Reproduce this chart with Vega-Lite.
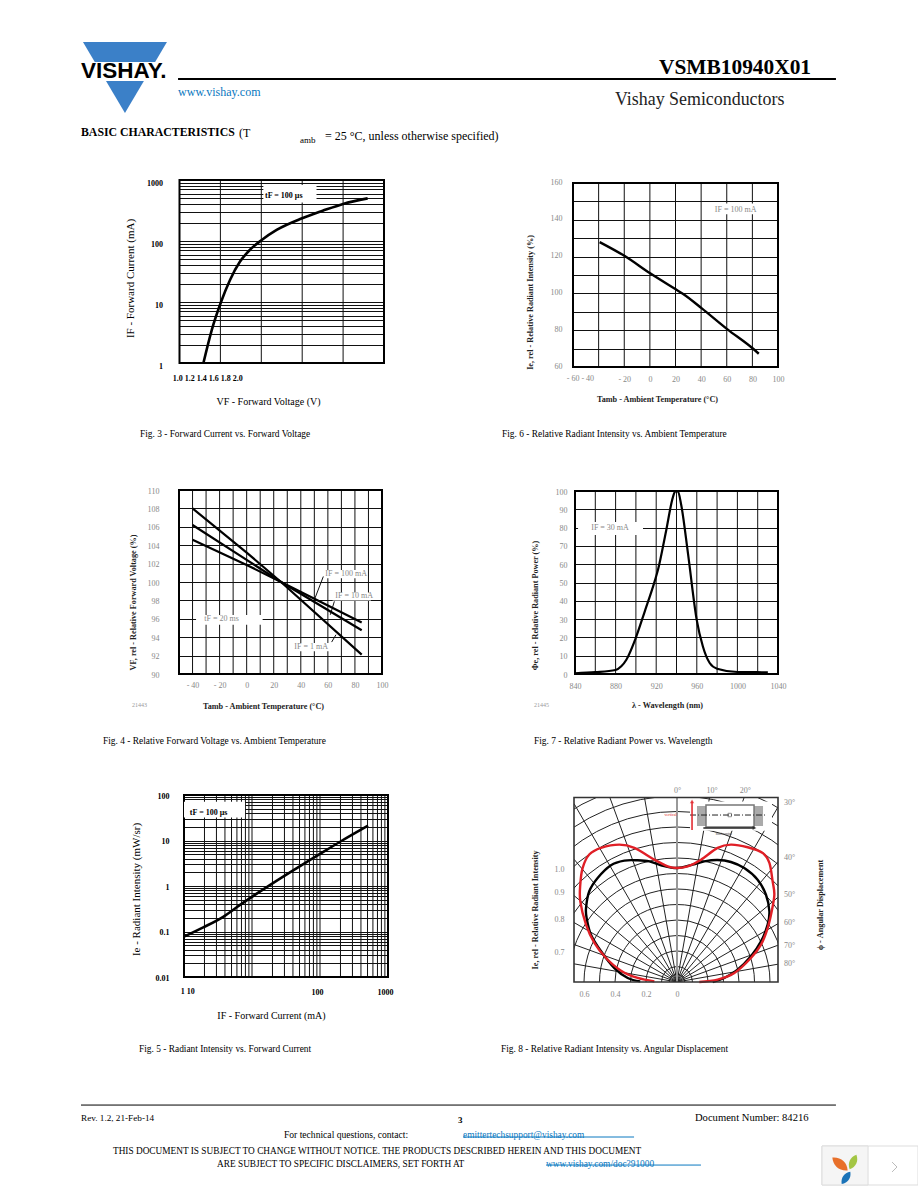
{"$schema":"https://vega.github.io/schema/vega-lite/v6.json","width":918,"height":1188,"padding":0,"autosize":{"type":"none"},"background":"white",
"config":{"view":{"stroke":null},"axis":{"domain":false,"ticks":false,"gridColor":"#111","gridWidth":1,"gridOpacity":1,"labelFont":"Liberation Serif","titleFont":"Liberation Serif","labelOverlap":false,"labelBound":false,"labelFlush":false,"labelAngle":0,"labelBaseline":"middle","labelFontSize":8,"labelColor":"#888","titleFontSize":8.2,"titleFontWeight":"bold","titleColor":"#222","titleBaseline":"middle","titleAlign":"center"},"text":{"font":"Liberation Serif","align":"left","baseline":"middle","color":"#000"}},
"resolve":{"scale":{"x":"independent","y":"independent","radius":"independent"},"axis":{"x":"independent","y":"independent"}},
"layer":[
{"encoding":{"x":{"field":"x","type":"quantitative","scale":{"domain":[-0.6645,0.6516],"range":[574,778],"nice":false,"zero":false},"axis":{"orient":"bottom","offset":-206,"grid":false,"zindex":1,"values":[-0.6,-0.4,-0.2,0],"labelExpr":"''+abs(datum.value)","labelPadding":12,"title":null}},"y":{"field":"y","type":"quantitative","axis":null,"scale":{"domain":[0,1.19],"range":[982,797.5],"nice":false,"zero":false}}},
"layer":[
{"data":{"values":[{"x":0,"y":0,"r":0.05},{"x":0,"y":0,"r":0.1},{"x":0,"y":0,"r":0.2},{"x":0,"y":0,"r":0.3},{"x":0,"y":0,"r":0.4},{"x":0,"y":0,"r":0.5},{"x":0,"y":0,"r":0.6},{"x":0,"y":0,"r":0.7},{"x":0,"y":0,"r":0.8},{"x":0,"y":0,"r":0.9},{"x":0,"y":0,"r":1.0},{"x":0,"y":0,"r":1.1},{"x":0,"y":0,"r":1.2},{"x":0,"y":0,"r":1.3}]},"mark":{"type":"arc","theta":0,"theta2":6.2832,"filled":false,"stroke":"#222","strokeWidth":1},"encoding":{"radius":{"field":"r","type":"quantitative","stack":null,"scale":{"domain":[0,1.3],"range":[0,201.5],"nice":false,"zero":true}}}},
{"data":{"values":[{"x":0,"y":0,"x2":0.2098,"y2":1.19},{"x":0,"y":0,"x2":0.4331,"y2":1.19},{"x":0,"y":0,"x2":0.6516,"y2":1.1286},{"x":0,"y":0,"x2":0.6516,"y2":0.7765},{"x":0,"y":0,"x2":0.6516,"y2":0.5467},{"x":0,"y":0,"x2":0.6516,"y2":0.3762},{"x":0,"y":0,"x2":0.6516,"y2":0.2372},{"x":0,"y":0,"x2":0.6516,"y2":0.1149},{"x":0,"y":0,"x2":-0.2098,"y2":1.19},{"x":0,"y":0,"x2":-0.4331,"y2":1.19},{"x":0,"y":0,"x2":-0.6645,"y2":1.151},{"x":0,"y":0,"x2":-0.6645,"y2":0.792},{"x":0,"y":0,"x2":-0.6645,"y2":0.5576},{"x":0,"y":0,"x2":-0.6645,"y2":0.3837},{"x":0,"y":0,"x2":-0.6645,"y2":0.2419},{"x":0,"y":0,"x2":-0.6645,"y2":0.1172}]},"mark":{"type":"rule","stroke":"#222","strokeWidth":1},"encoding":{"x2":{"field":"x2"},"y2":{"field":"y2"}}},
{"data":{"values":[{"x":-1.4,"x2":-0.6645,"y":-1.4,"y2":1.45},{"x":0.6516,"x2":1.4,"y":-1.4,"y2":1.45},{"x":-1.4,"x2":1.4,"y":1.19,"y2":1.45},{"x":-1.4,"x2":1.4,"y":-1.4,"y2":0}]},"mark":{"type":"rect","fill":"#fff"},"encoding":{"x2":{"field":"x2"},"y2":{"field":"y2"}}},
{"data":{"values":[{"x":0,"y":0,"x2":0,"y2":1.19}]},"mark":{"type":"rule","stroke":"#999","strokeWidth":2},"encoding":{"x2":{"field":"x2"},"y2":{"field":"y2"}}},
{"data":{"values":[{"x":0.084,"x2":0.613,"y":0.975,"y2":1.165}]},"mark":{"type":"rect","fill":"#fff"},"encoding":{"x2":{"field":"x2"},"y2":{"field":"y2"}}},
{"data":{"values":[{"x":0.129,"x2":0.187,"y":1.006,"y2":1.135},{"x":0.497,"x2":0.555,"y":1.006,"y2":1.135}]},"mark":{"type":"rect","fill":"#aaa"},"encoding":{"x2":{"field":"x2"},"y2":{"field":"y2"}}},
{"data":{"values":[{"x":0.187,"x2":0.497,"y":1.0,"y2":1.142}]},"mark":{"type":"rect","filled":false,"stroke":"#777","strokeWidth":1.5},"encoding":{"x2":{"field":"x2"},"y2":{"field":"y2"}}},
{"data":{"values":[{"x":0.084,"x2":0.574,"y":1.077}]},"mark":{"type":"rule","stroke":"#222","strokeWidth":1,"strokeDash":[6,2,1,2]},"encoding":{"x2":{"field":"x2"}}},
{"data":{"values":[{"x":0.097,"y":0.98,"y2":1.165}]},"mark":{"type":"rule","stroke":"#e01f26","strokeWidth":1.5},"encoding":{"y2":{"field":"y2"}}},
{"data":{"values":[{"x":0.097,"y":1.165}]},"mark":{"type":"point","shape":"triangle-up","filled":true,"color":"#e01f26","size":20}},
{"data":{"values":[{"x":0.17,"x2":0.5,"y":0.994}]},"mark":{"type":"rule","stroke":"#222","strokeWidth":1.5},"encoding":{"x2":{"field":"x2"}}},
{"data":{"values":[{"x":0.5,"y":0.994}]},"mark":{"type":"point","shape":"triangle-right","filled":true,"color":"#222","size":20}},
{"data":{"values":[{"x":0.34,"y":1.077}]},"mark":{"type":"point","shape":"square","filled":false,"color":"#222","size":12,"strokeWidth":0.7}},
{"data":{"values":[{"t":"vertical","x":-0.08,"y":1.077}]},"mark":{"type":"text","fontSize":4,"color":"#e01f26"},"encoding":{"text":{"field":"t"}}},
{"data":{"values":[{"t":"horizontal","x":0.25,"y":0.955}]},"mark":{"type":"text","fontSize":4,"color":"#444"},"encoding":{"text":{"field":"t"}}},
{"data":{"values":[{"i":1,"x":-0.237,"y":0.004},{"i":2,"x":-0.318,"y":0.026},{"i":3,"x":-0.404,"y":0.09},{"i":4,"x":-0.49,"y":0.198},{"i":5,"x":-0.555,"y":0.305},{"i":6,"x":-0.583,"y":0.413},{"i":7,"x":-0.587,"y":0.477},{"i":8,"x":-0.566,"y":0.585},{"i":9,"x":-0.512,"y":0.671},{"i":10,"x":-0.426,"y":0.753},{"i":11,"x":-0.34,"y":0.783},{"i":12,"x":-0.254,"y":0.785},{"i":13,"x":-0.178,"y":0.778},{"i":14,"x":-0.103,"y":0.753},{"i":15,"x":0,"y":0.735},{"i":16,"x":0.101,"y":0.757},{"i":17,"x":0.176,"y":0.778},{"i":18,"x":0.262,"y":0.787},{"i":19,"x":0.348,"y":0.774},{"i":20,"x":0.434,"y":0.735},{"i":21,"x":0.52,"y":0.66},{"i":22,"x":0.574,"y":0.563},{"i":23,"x":0.596,"y":0.456},{"i":24,"x":0.585,"y":0.37},{"i":25,"x":0.542,"y":0.262},{"i":26,"x":0.477,"y":0.166},{"i":27,"x":0.391,"y":0.08},{"i":28,"x":0.305,"y":0.026},{"i":29,"x":0.23,"y":0}]},"mark":{"type":"line","stroke":"#000","strokeWidth":2.4,"interpolate":"cardinal"},"encoding":{"order":{"field":"i"}}},
{"data":{"values":[{"i":1,"x":-0.146,"y":0.004},{"i":2,"x":-0.254,"y":0.026},{"i":3,"x":-0.361,"y":0.073},{"i":4,"x":-0.458,"y":0.155},{"i":5,"x":-0.533,"y":0.252},{"i":6,"x":-0.587,"y":0.37},{"i":7,"x":-0.624,"y":0.52},{"i":8,"x":-0.624,"y":0.628},{"i":9,"x":-0.609,"y":0.735},{"i":10,"x":-0.566,"y":0.822},{"i":11,"x":-0.49,"y":0.865},{"i":12,"x":-0.372,"y":0.886},{"i":13,"x":-0.275,"y":0.865},{"i":14,"x":-0.146,"y":0.789},{"i":15,"x":-0.06,"y":0.746},{"i":16,"x":0,"y":0.735},{"i":17,"x":0.069,"y":0.746},{"i":18,"x":0.155,"y":0.789},{"i":19,"x":0.262,"y":0.865},{"i":20,"x":0.348,"y":0.886},{"i":21,"x":0.456,"y":0.869},{"i":22,"x":0.553,"y":0.832},{"i":23,"x":0.596,"y":0.768},{"i":24,"x":0.617,"y":0.649},{"i":25,"x":0.628,"y":0.563},{"i":26,"x":0.611,"y":0.456},{"i":27,"x":0.585,"y":0.348},{"i":28,"x":0.542,"y":0.241},{"i":29,"x":0.477,"y":0.155},{"i":30,"x":0.37,"y":0.058},{"i":31,"x":0.262,"y":0.015},{"i":32,"x":0.144,"y":0}]},"mark":{"type":"line","stroke":"#e01f26","strokeWidth":2.4,"interpolate":"cardinal"},"encoding":{"order":{"field":"i"}}},
{"data":{"values":[{"x":-0.6645,"x2":0.6516,"y":0,"y2":1.19}]},"mark":{"type":"rect","filled":false,"stroke":"#333","strokeWidth":1.6},"encoding":{"x2":{"field":"x2"},"y2":{"field":"y2"}}},
{"data":{"values":[{"t":"1.0","x":-0.79,"y":0.723},{"t":"0.9","x":-0.79,"y":0.574},{"t":"0.8","x":-0.79,"y":0.4},{"t":"0.7","x":-0.79,"y":0.187},{"t":"0°","x":-0.02,"y":1.232},{"t":"10°","x":0.19,"y":1.232},{"t":"20°","x":0.405,"y":1.232},{"t":"30°","x":0.69,"y":1.155},{"t":"40°","x":0.69,"y":0.8},{"t":"50°","x":0.69,"y":0.561},{"t":"60°","x":0.69,"y":0.381},{"t":"70°","x":0.69,"y":0.232},{"t":"80°","x":0.69,"y":0.116}]},"mark":{"type":"text","fontSize":8,"color":"#888"},"encoding":{"text":{"field":"t"}}},
{"data":{"values":[{"t":"Ie, rel  - Relative Radiant Intensity","x":-0.91,"y":0.465},{"t":"ϕ - Angular Displacement","x":0.93,"y":0.497}]},"mark":{"type":"text","fontSize":8.2,"fontWeight":"bold","color":"#222","angle":270,"align":"center"},"encoding":{"text":{"field":"t"}}}
]},
{"encoding":{"x":{"field":"x","type":"quantitative","scale":{"type":"linear","domain":[1,2],"range":[179.5,384],"nice":false,"zero":false},"axis":{"orient":"bottom","offset":-825,"grid":false,"values":[1,1.2,1.4,1.6,1.8,2],"labels":false,"title":"VF  - Forward Voltage (V)","titleX":268,"titleY":38,"titleFontSize":10,"titleFontWeight":"normal","titleColor":"#000"}},"y":{"field":"y","type":"quantitative","scale":{"type":"log","domain":[1,1000],"range":[363,180],"nice":false},"axis":{"orient":"left","offset":-179.5,"grid":true,"values":[1,2,3,4,5,6,7,8,9,10,20,30,40,50,60,70,80,90,100,200,300,400,500,600,700,800,900,1000],"labelExpr":"indexof([1,10,100,1000],datum.value)>=0?''+datum.value:''","labelFontWeight":"bold","labelColor":"#000","labelPadding":17,"labelOffset":3,"title":"IF  - Forward  Current (mA)","titleX":-49.5,"titleY":278,"titleAngle":270,"titleFontSize":11,"titleFontWeight":"normal","titleColor":"#000"}}},
"layer":[
{"data":{"values":[{"x":1.2,"y":1,"y2":1000},{"x":1.4,"y":1,"y2":1000},{"x":1.6,"y":1,"y2":1000},{"x":1.8,"y":1,"y2":1000}]},"mark":{"type":"rule","stroke":"#111","strokeWidth":1},"encoding":{"y2":{"field":"y2"}}},
{"data":{"values":[{"x":1,"x2":2,"y":1,"y2":1000}]},"mark":{"type":"rect","filled":false,"stroke":"#000","strokeWidth":2},"encoding":{"x2":{"field":"x2"},"y2":{"field":"y2"}}},
{"data":{"values":[{"x":1.41,"x2":1.67,"y":426,"y2":827}]},"mark":{"type":"rect","fill":"#fff"},"encoding":{"x2":{"field":"x2"},"y2":{"field":"y2"}}},
{"data":{"values":[{"x":1.117,"y":1},{"x":1.158,"y":3.5},{"x":1.203,"y":10},{"x":1.247,"y":23},{"x":1.296,"y":46},{"x":1.345,"y":72},{"x":1.402,"y":104},{"x":1.475,"y":152},{"x":1.6,"y":236},{"x":1.7,"y":313},{"x":1.8,"y":406},{"x":1.92,"y":500}]},"mark":{"type":"line","stroke":"#000","strokeWidth":2.6,"interpolate":"monotone"}},
{"data":{"values":[{"t":"tF  = 100 µs","x":1.418,"y":547},{"t":"1.0 1.2 1.4 1.6 1.8 2.0","x":0.967,"y":0.547}]},"mark":{"type":"text","fontSize":8,"fontWeight":"bold"},"encoding":{"text":{"field":"t"}}}
]},
{"encoding":{"x":{"field":"x","type":"quantitative","scale":{"domain":[-60,100],"range":[573,778],"nice":false,"zero":false},"axis":{"orient":"bottom","offset":-821,"grid":false,"values":[-60,-40,-20,0,20,40,60,80,100],"labelExpr":"datum.value>=-20?(datum.value<0?'- '+abs(datum.value):''+datum.value):''","labelPadding":12,"title":"Tamb  - Ambient Temperature (°C)","titleX":657,"titleY":32}},"y":{"field":"y","type":"quantitative","scale":{"domain":[60,160],"range":[367,183],"nice":false,"zero":false},"axis":{"orient":"left","offset":-573,"grid":true,"values":[60,70,80,90,100,110,120,130,140,150,160],"labelExpr":"datum.value%20==0?''+datum.value:''","labelPadding":11,"labelOffset":-1,"title":"Ie, rel  - Relative Radiant Intensity (%)","titleX":-43,"titleY":302,"titleAngle":270}}},
"layer":[
{"data":{"values":[{"x":-40,"y":60,"y2":160},{"x":-20,"y":60,"y2":160},{"x":0,"y":60,"y2":160},{"x":20,"y":60,"y2":160},{"x":40,"y":60,"y2":160},{"x":60,"y":60,"y2":160},{"x":80,"y":60,"y2":160}]},"mark":{"type":"rule","stroke":"#111","strokeWidth":1},"encoding":{"y2":{"field":"y2"}}},
{"data":{"values":[{"x":-60,"x2":100,"y":60,"y2":160}]},"mark":{"type":"rect","filled":false,"stroke":"#000","strokeWidth":2},"encoding":{"x2":{"field":"x2"},"y2":{"field":"y2"}}},
{"data":{"values":[{"x":41,"x2":84.5,"y":143,"y2":148.8}]},"mark":{"type":"rect","fill":"#fff"},"encoding":{"x2":{"field":"x2"},"y2":{"field":"y2"}}},
{"data":{"values":[{"x":-39.2,"y":127.9},{"x":-19.6,"y":120.3},{"x":0.2,"y":110.9},{"x":20.2,"y":102.2},{"x":26,"y":99.7},{"x":40.3,"y":92},{"x":60.3,"y":80.6},{"x":80.6,"y":69.9},{"x":85,"y":67.2}]},"mark":{"type":"line","stroke":"#000","strokeWidth":2.4,"interpolate":"monotone"}},
{"data":{"values":[{"t":"IF  = 100 mA","x":50.7,"y":145.4},{"t":"- 60  - 40","x":-64.9,"y":53.5}]},"mark":{"type":"text","fontSize":8,"color":"#888"},"encoding":{"text":{"field":"t"}}}
]},
{"encoding":{"x":{"field":"x","type":"quantitative","scale":{"domain":[-50,100],"range":[179,382],"nice":false,"zero":false},"axis":{"orient":"bottom","offset":-514,"grid":false,"values":[-50,-40,-30,-20,-10,0,10,20,30,40,50,60,70,80,90,100],"labelExpr":"datum.value%20==0?(datum.value<0?'- '+abs(datum.value):''+datum.value):''","labelPadding":11,"title":"Tamb  - Ambient Temperature (°C)","titleX":263,"titleY":32}},"y":{"field":"y","type":"quantitative","scale":{"domain":[90,110],"range":[674,490],"nice":false,"zero":false},"axis":{"orient":"left","offset":-179,"grid":true,"values":[90,92,94,96,98,100,102,104,106,108,110],"labelPadding":20,"labelOffset":1,"title":"VF, rel  - Relative Forward Voltage (%)","titleX":-46,"titleY":602,"titleAngle":270}}},
"layer":[
{"data":{"values":[{"x":-40,"y":90,"y2":110},{"x":-30,"y":90,"y2":110},{"x":-20,"y":90,"y2":110},{"x":-10,"y":90,"y2":110},{"x":0,"y":90,"y2":110},{"x":10,"y":90,"y2":110},{"x":20,"y":90,"y2":110},{"x":30,"y":90,"y2":110},{"x":40,"y":90,"y2":110},{"x":50,"y":90,"y2":110},{"x":60,"y":90,"y2":110},{"x":70,"y":90,"y2":110},{"x":80,"y":90,"y2":110},{"x":90,"y":90,"y2":110}]},"mark":{"type":"rule","stroke":"#111","strokeWidth":1},"encoding":{"y2":{"field":"y2"}}},
{"data":{"values":[{"x":-50,"x2":100,"y":90,"y2":110}]},"mark":{"type":"rect","filled":false,"stroke":"#000","strokeWidth":2},"encoding":{"x2":{"field":"x2"},"y2":{"field":"y2"}}},
{"data":{"values":[{"x":-37.4,"x2":11.8,"y":95.35,"y2":96.4},{"x":56.2,"x2":88.2,"y":100.4,"y2":101.3},{"x":63.5,"x2":91.9,"y":98,"y2":98.86},{"x":31.5,"x2":62.3,"y":92.46,"y2":93.36}]},"mark":{"type":"rect","fill":"#fff"},"encoding":{"x2":{"field":"x2"},"y2":{"field":"y2"}}},
{"data":{"values":[{"x":50,"y":98.06,"x2":56.65,"y2":100.6},{"x":61.8,"y":96.44,"x2":64.8,"y2":97.9},{"x":62.8,"y":93.47,"x2":66,"y2":94.27}]},"mark":{"type":"rule","stroke":"#111","strokeWidth":1},"encoding":{"x2":{"field":"x2"},"y2":{"field":"y2"}}},
{"data":{"values":[{"s":"1 mA","x":-40,"y":108},{"s":"1 mA","x":0,"y":103.2},{"s":"1 mA","x":25.4,"y":100},{"s":"1 mA","x":85,"y":92.1},{"s":"10 mA","x":-40,"y":106.2},{"s":"10 mA","x":0,"y":102.4},{"s":"10 mA","x":25.4,"y":100},{"s":"10 mA","x":85,"y":94.75},{"s":"100 mA","x":-40,"y":104.6},{"s":"100 mA","x":0,"y":101.85},{"s":"100 mA","x":25.4,"y":100},{"s":"100 mA","x":85,"y":95.6}]},"mark":{"type":"line","stroke":"#000","strokeWidth":2.2},"encoding":{"detail":{"field":"s"}}},
{"data":{"values":[{"t":"tF  = 20 ms","x":-31.3,"y":96},{"t":"IF  = 100 mA","x":58.1,"y":100.9},{"t":"IF  = 10 mA","x":65.5,"y":98.43},{"t":"IF  = 1 mA","x":35.2,"y":92.9}]},"mark":{"type":"text","fontSize":8,"color":"#888"},"encoding":{"text":{"field":"t"}}},
{"data":{"values":[{"t":"21443","x":-84.7,"y":86.6}]},"mark":{"type":"text","fontSize":6,"color":"#999"},"encoding":{"text":{"field":"t"}}}
]},
{"encoding":{"x":{"field":"x","type":"quantitative","scale":{"domain":[840,1040],"range":[575,778],"nice":false,"zero":false},"axis":{"orient":"bottom","offset":-514,"grid":false,"values":[840,860,880,900,920,940,960,980,1000,1020,1040],"labelExpr":"(datum.value-840)%40==0?''+datum.value:''","labelPadding":12,"title":"λ - Wavelength (nm)","titleX":667,"titleY":31}},"y":{"field":"y","type":"quantitative","scale":{"domain":[0,100],"range":[674,491],"nice":false,"zero":false},"axis":{"orient":"left","offset":-575,"grid":true,"values":[0,10,20,30,40,50,60,70,80,90,100],"labelPadding":8,"labelOffset":1,"title":"Φe, rel  - Relative Radiant Power (%)","titleX":-40,"titleY":605,"titleAngle":270}}},
"layer":[
{"data":{"values":[{"x":860,"y":0,"y2":100},{"x":880,"y":0,"y2":100},{"x":900,"y":0,"y2":100},{"x":920,"y":0,"y2":100},{"x":940,"y":0,"y2":100},{"x":960,"y":0,"y2":100},{"x":980,"y":0,"y2":100},{"x":1000,"y":0,"y2":100},{"x":1020,"y":0,"y2":100}]},"mark":{"type":"rule","stroke":"#111","strokeWidth":1},"encoding":{"y2":{"field":"y2"}}},
{"data":{"values":[{"x":840,"x2":1040,"y":0,"y2":100}]},"mark":{"type":"rect","filled":false,"stroke":"#000","strokeWidth":2},"encoding":{"x2":{"field":"x2"},"y2":{"field":"y2"}}},
{"data":{"values":[{"x":843,"x2":907,"y":75.9,"y2":83.1}]},"mark":{"type":"rect","fill":"#fff"},"encoding":{"x2":{"field":"x2"},"y2":{"field":"y2"}}},
{"data":{"values":[{"x":840,"y":0.4},{"x":860,"y":1},{"x":880,"y":2.2},{"x":885.6,"y":4.2},{"x":890.6,"y":7.8},{"x":899.8,"y":19.6},{"x":908.6,"y":34},{"x":918.4,"y":50.5},{"x":921.7,"y":56.8},{"x":929.9,"y":78.6},{"x":936.5,"y":96.7},{"x":938.8,"y":99.8},{"x":941.4,"y":99.8},{"x":944.7,"y":92.2},{"x":951.3,"y":65.9},{"x":959.9,"y":29.6},{"x":966,"y":15},{"x":972.7,"y":6},{"x":980,"y":2.9},{"x":1000,"y":1.1},{"x":1019.6,"y":1},{"x":1030,"y":0.9}]},"mark":{"type":"line","stroke":"#000","strokeWidth":2.2,"interpolate":"monotone"}},
{"data":{"values":[{"t":"IF  = 30 mA","x":856,"y":80}]},"mark":{"type":"text","fontSize":8,"color":"#888"},"encoding":{"text":{"field":"t"}}},
{"data":{"values":[{"t":"21445","x":799.6,"y":-16.9}]},"mark":{"type":"text","fontSize":6,"color":"#999"},"encoding":{"text":{"field":"t"}}}
]},
{"encoding":{"x":{"field":"x","type":"quantitative","scale":{"type":"log","domain":[1,1000],"range":[184,388],"nice":false},"axis":{"orient":"bottom","offset":-211,"grid":false,"values":[1,2,3,4,5,6,7,8,9,10,20,30,40,50,60,70,80,90,100,200,300,400,500,600,700,800,900,1000],"labelExpr":"indexof([100,1000],datum.value)>=0?''+datum.value:''","labelFontWeight":"bold","labelColor":"#000","labelPadding":15,"labelOffset":-3,"title":"IF  - Forward Current (mA)","titleX":271,"titleY":38,"titleFontSize":10,"titleFontWeight":"normal","titleColor":"#000"}},"y":{"field":"y","type":"quantitative","scale":{"type":"log","domain":[0.01,100],"range":[977,795],"nice":false},"axis":{"orient":"left","offset":-184,"grid":true,"values":[0.01,0.02,0.03,0.04,0.05,0.06,0.07,0.08,0.09,0.1,0.2,0.3,0.4,0.5,0.6,0.7,0.8,0.9,1,2,3,4,5,6,7,8,9,10,20,30,40,50,60,70,80,90,100],"labelExpr":"indexof([0.01,0.1,1,10,100],datum.value)>=0?''+datum.value:''","labelFontWeight":"bold","labelColor":"#000","labelPadding":15,"labelOffset":1,"title":"Ie  - Radiant  Intensity (mW/sr)","titleX":-48,"titleY":889,"titleAngle":270,"titleFontSize":11,"titleFontWeight":"normal","titleColor":"#000"}}},
"layer":[
{"data":{"values":[{"x":2,"y":0.01,"y2":100},{"x":3,"y":0.01,"y2":100},{"x":4,"y":0.01,"y2":100},{"x":5,"y":0.01,"y2":100},{"x":6,"y":0.01,"y2":100},{"x":7,"y":0.01,"y2":100},{"x":8,"y":0.01,"y2":100},{"x":9,"y":0.01,"y2":100},{"x":10,"y":0.01,"y2":100},{"x":20,"y":0.01,"y2":100},{"x":30,"y":0.01,"y2":100},{"x":40,"y":0.01,"y2":100},{"x":50,"y":0.01,"y2":100},{"x":60,"y":0.01,"y2":100},{"x":70,"y":0.01,"y2":100},{"x":80,"y":0.01,"y2":100},{"x":90,"y":0.01,"y2":100},{"x":100,"y":0.01,"y2":100},{"x":200,"y":0.01,"y2":100},{"x":300,"y":0.01,"y2":100},{"x":400,"y":0.01,"y2":100},{"x":500,"y":0.01,"y2":100},{"x":600,"y":0.01,"y2":100},{"x":700,"y":0.01,"y2":100},{"x":800,"y":0.01,"y2":100},{"x":900,"y":0.01,"y2":100}]},"mark":{"type":"rule","stroke":"#111","strokeWidth":1},"encoding":{"y2":{"field":"y2"}}},
{"data":{"values":[{"x":1,"x2":1000,"y":0.01,"y2":100}]},"mark":{"type":"rect","filled":false,"stroke":"#000","strokeWidth":2},"encoding":{"x2":{"field":"x2"},"y2":{"field":"y2"}}},
{"data":{"values":[{"x":1,"x2":7.9,"y":32,"y2":71}]},"mark":{"type":"rect","fill":"#fff"},"encoding":{"x2":{"field":"x2"},"y2":{"field":"y2"}}},
{"data":{"values":[{"x":1,"y":0.077},{"x":1.92,"y":0.123},{"x":3.77,"y":0.21},{"x":6.6,"y":0.38},{"x":18.3,"y":1.05},{"x":45,"y":2.45},{"x":90.8,"y":4.64},{"x":206,"y":9.75},{"x":509,"y":21.2}]},"mark":{"type":"line","stroke":"#000","strokeWidth":2.6,"interpolate":"monotone"}},
{"data":{"values":[{"t":"tF  = 100 µs","x":1.22,"y":40.9},{"t":"1 10","x":0.894,"y":0.00475}]},"mark":{"type":"text","fontSize":8,"fontWeight":"bold"},"encoding":{"text":{"field":"t"}}}
]},
{"encoding":{"x":{"field":"x","type":"quantitative","axis":null,"scale":{"domain":[0,612],"range":[0,918],"nice":false,"zero":false}},"y":{"field":"y","type":"quantitative","axis":null,"scale":{"domain":[0,792],"range":[0,1188],"nice":false,"zero":false}}},
"layer":[
{"data":{"values":[{"x":55.3,"y":28,"y2":28},{"x":83.3,"y":28,"y2":75.3},{"x":111.3,"y":28,"y2":28}]},"mark":{"type":"area","color":"#3b80c8"},"encoding":{"y2":{"field":"y2"}}},
{"data":{"values":[{"x":52,"x2":112,"y":41.3,"y2":54}]},"mark":{"type":"rect","fill":"#fff"},"encoding":{"x2":{"field":"x2"},"y2":{"field":"y2"}}},
{"data":{"values":[{"t":"VISHAY.","x":54,"y":47.3}]},"mark":{"type":"text","font":"Liberation Sans","fontWeight":"bold","fontSize":22.5},"encoding":{"text":{"field":"t"}}},
{"data":{"values":[{"x":118.7,"x2":557.3,"y":52.7}]},"mark":{"type":"rule","stroke":"#000","strokeWidth":2},"encoding":{"x2":{"field":"x2"}}},
{"data":{"values":[{"x":54,"x2":557.3,"y":736.7}]},"mark":{"type":"rule","stroke":"#000","strokeWidth":1},"encoding":{"x2":{"field":"x2"}}},
{"data":{"values":[{"x":308.7,"x2":422.7,"y":758},{"x":364,"x2":467.3,"y":776.7}]},"mark":{"type":"rule","stroke":"#0a78c0","strokeWidth":1},"encoding":{"x2":{"field":"x2"}}},
{"data":{"values":[{"t":"VSMB10940X01","x":439.3,"y":45.3}]},"mark":{"type":"text","fontWeight":"bold","fontSize":21.4},"encoding":{"text":{"field":"t"}}},
{"data":{"values":[{"t":"Vishay Semiconductors","x":410,"y":66.7}]},"mark":{"type":"text","fontSize":17.9,"color":"#222"},"encoding":{"text":{"field":"t"}}},
{"data":{"values":[{"t":"www.vishay.com","x":118.7,"y":61.3}]},"mark":{"type":"text","fontSize":12,"color":"#0a78c0"},"encoding":{"text":{"field":"t"}}},
{"data":{"values":[{"t":"BASIC CHARACTERISTICS","x":54,"y":88}]},"mark":{"type":"text","fontWeight":"bold","fontSize":11.8},"encoding":{"text":{"field":"t"}}},
{"data":{"values":[{"t":"(T","x":159.3,"y":88.7},{"t":"= 25 °C, unless otherwise specified)","x":216.7,"y":90.7}]},"mark":{"type":"text","fontSize":12},"encoding":{"text":{"field":"t"}}},
{"data":{"values":[{"t":"amb","x":200,"y":93.3}]},"mark":{"type":"text","fontSize":9},"encoding":{"text":{"field":"t"}}},
{"data":{"values":[{"t":"Fig. 3 - Forward Current vs. Forward Voltage","x":93.3,"y":289.3},{"t":"Fig. 6 - Relative Radiant Intensity vs. Ambient Temperature","x":334.7,"y":289.3},{"t":"Fig. 4 - Relative Forward Voltage vs. Ambient Temperature","x":68.7,"y":494},{"t":"Fig. 7 - Relative Radiant Power vs. Wavelength","x":356,"y":494},{"t":"Fig. 5 - Radiant Intensity vs. Forward Current","x":92.7,"y":699.3},{"t":"Fig. 8 - Relative Radiant Intensity vs. Angular Displacement","x":334,"y":699.3}]},"mark":{"type":"text","fontSize":9.4},"encoding":{"text":{"field":"t"}}},
{"data":{"values":[{"t":"Rev. 1.2, 21-Feb-14","x":54,"y":745.3}]},"mark":{"type":"text","fontSize":9.2},"encoding":{"text":{"field":"t"}}},
{"data":{"values":[{"t":"Document Number: 84216","x":463.3,"y":745.3}]},"mark":{"type":"text","fontSize":10.6},"encoding":{"text":{"field":"t"}}},
{"data":{"values":[{"t":"For technical questions, contact:","x":189.3,"y":756.7}]},"mark":{"type":"text","fontSize":9.6},"encoding":{"text":{"field":"t"}}},
{"data":{"values":[{"t":"THIS DOCUMENT IS SUBJECT TO CHANGE WITHOUT NOTICE. THE PRODUCTS DESCRIBED HEREIN AND THIS DOCUMENT","x":75.3,"y":767.3},{"t":"ARE SUBJECT TO SPECIFIC DISCLAIMERS, SET FORTH AT","x":144.7,"y":776}]},"mark":{"type":"text","fontSize":9.3},"encoding":{"text":{"field":"t"}}},
{"data":{"values":[{"t":"3","x":305.3,"y":746.7}]},"mark":{"type":"text","fontSize":9,"fontWeight":"bold"},"encoding":{"text":{"field":"t"}}},
{"data":{"values":[{"t":"emittertechsupport@vishay.com","x":308.7,"y":756.7},{"t":"www.vishay.com/doc?91000","x":364,"y":776}]},"mark":{"type":"text","fontSize":9.4,"color":"#0a78c0"},"encoding":{"text":{"field":"t"}}},
{"data":{"values":[{"x":548,"x2":612,"y":764,"y2":790}]},"mark":{"type":"rect","fill":"#fff","stroke":"#ddd"},"encoding":{"x2":{"field":"x2"},"y2":{"field":"y2"}}},
{"data":{"values":[{"x":548,"x2":578.7,"y":764,"y2":790}]},"mark":{"type":"rect","fill":"#f5f5f5","stroke":"#ddd"},"encoding":{"x2":{"field":"x2"},"y2":{"field":"y2"}}},
{"data":{"values":[{"x":560,"y":776}]},"mark":{"type":"point","filled":true,"opacity":1,"color":"#e8702a","size":400,"angle":40,"shape":"M-1,0C-.4,-.6 .4,-.6 1,0C.4,.6 -.4,.6 -1,0Z"}},
{"data":{"values":[{"x":568.7,"y":774.7}]},"mark":{"type":"point","filled":true,"opacity":1,"color":"#a3c644","size":256,"angle":115,"shape":"M-1,0C-.4,-.6 .4,-.6 1,0C.4,.6 -.4,.6 -1,0Z"}},
{"data":{"values":[{"x":564,"y":785.3}]},"mark":{"type":"point","filled":true,"opacity":1,"color":"#1a73b8","size":225,"angle":125,"shape":"M-1,0C-.4,-.6 .4,-.6 1,0C.4,.6 -.4,.6 -1,0Z"}},
{"data":{"values":[{"i":1,"x":594.7,"y":774.7},{"i":2,"x":598,"y":778},{"i":3,"x":594.7,"y":781.3}]},"mark":{"type":"line","stroke":"#bbb","strokeWidth":1},"encoding":{"order":{"field":"i"}}}
]}
]}
